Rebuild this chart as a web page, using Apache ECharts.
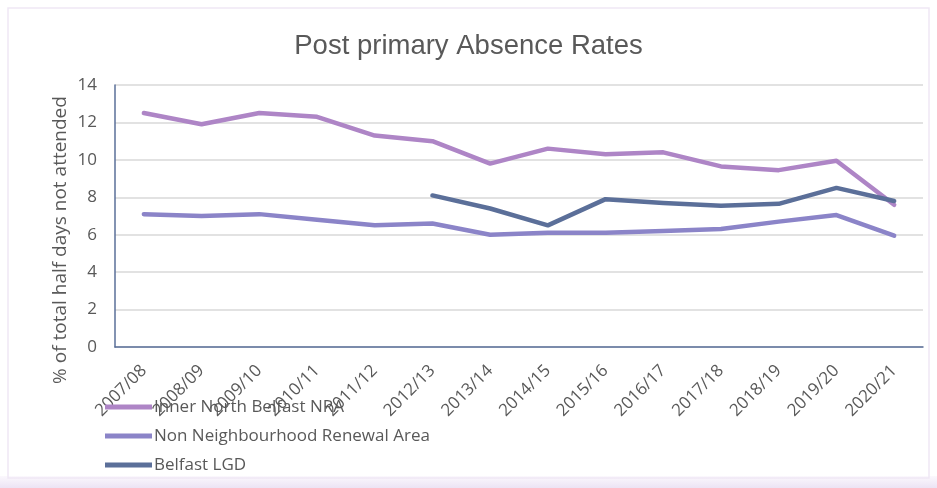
<!DOCTYPE html>
<html><head><meta charset="utf-8">
<script src="https://cdn.jsdelivr.net/npm/echarts@6/dist/echarts.min.js"></script>
<style>html,body{margin:0;padding:0;background:#fff}#c{width:937px;height:488px}</style>
</head><body><div id="c"></div>
<script>
const categories = ['2007/08','2008/09','2009/10','2010/11','2011/12','2012/13','2013/14','2014/15','2015/16','2016/17','2017/18','2018/19','2019/20','2020/21'];
const innerNorth = [12.5,11.9,12.5,12.3,11.3,11.0,9.8,10.6,10.3,10.4,9.65,9.45,9.95,7.6];
const nonNRA = [7.1,7.0,7.1,6.8,6.5,6.6,6.0,6.1,6.1,6.2,6.3,6.7,7.05,5.95];
const belfastLGD = [null,null,null,null,null,8.1,7.4,6.5,7.9,7.7,7.55,7.65,8.5,7.8];
const yTicks = [0,2,4,6,8,10,12,14];
const yTitle = '% of total half days not attended';

const chart = echarts.init(document.getElementById('c'));
const txt = '#595959';
const font = "'Open Sans', sans-serif";
function mk(name, data, color){
  return {name, type:'line', data, symbol:'none', connectNulls:false,
    lineStyle:{color, width:4.5, cap:'round', join:'round'}, itemStyle:{color}};
}
chart.setOption({
  animation:false,
  title:{text:'Post primary Absence Rates', left:'center', top:27,
    textStyle:{fontFamily:"'Liberation Sans Narrow', sans-serif", fontWeight:'normal', fontSize:27.5, color:txt}},
  grid:{left:115, right:14, top:85, bottom:141, containLabel:false},
  xAxis:{type:'category', data:categories, boundaryGap:true,
    axisLine:{lineStyle:{color:'#5A6F99', width:1.5}}, axisTick:{show:false},
    axisLabel:{rotate:45, color:txt, fontSize:17, fontFamily:font, margin:21, interval:0}},
  yAxis:{type:'value', min:yTicks[0], max:yTicks[yTicks.length-1], interval:2,
    axisLine:{show:true, lineStyle:{color:'#5A6F99', width:1.5}}, axisTick:{show:false},
    axisLabel:{color:txt, fontSize:17, fontFamily:font, margin:18},
    splitLine:{lineStyle:{color:'#D9D9D9', width:1.5}}},
  legend:{orient:'vertical', left:105, top:398, padding:0, itemWidth:47, itemHeight:5, itemGap:11,
    icon:'rect', textStyle:{color:txt, fontSize:17, fontFamily:font, lineHeight:18, padding:[0,0,0,-3]},
    data:['Inner North Belfast NRA','Non Neighbourhood Renewal Area','Belfast LGD']},
  graphic:[
    {type:'rect', shape:{x:0,y:476,width:937,height:12}, style:{fill:{type:'linear',x:0,y:0,x2:0,y2:1,colorStops:[{offset:0,color:'#fbf8fd'},{offset:1,color:'#ece3f4'}]}}, silent:true, z:-1},
    {type:'rect', shape:{x:8,y:8,width:921,height:470}, style:{fill:'none', stroke:'#efe8f5', lineWidth:1.5}, silent:true, z:-1},
    {type:'text', x:61, y:240, rotation:Math.PI/2, style:{text:yTitle, fill:txt, font:"19px 'Open Sans', sans-serif", textAlign:'center', textVerticalAlign:'middle'}}
  ],
  series:[
    mk('Inner North Belfast NRA', innerNorth, '#AE85C6'),
    mk('Non Neighbourhood Renewal Area', nonNRA, '#8B84C8'),
    mk('Belfast LGD', belfastLGD, '#5B6F99')
  ]
});
</script></body></html>
